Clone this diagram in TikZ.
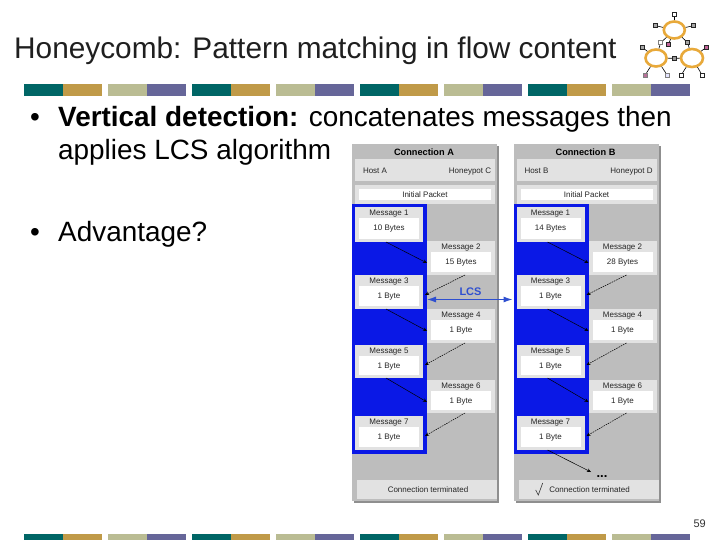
\documentclass[tikz,border=0pt]{standalone}
\usepackage{fontspec}
\setmainfont{Liberation Sans}
\usetikzlibrary{shapes.geometric,arrows.meta}
\definecolor{bteal}{HTML}{006666}
\definecolor{bgold}{HTML}{C09A48}
\definecolor{bsage}{HTML}{BABC93}
\definecolor{bviolet}{HTML}{666699}
\definecolor{panelgray}{HTML}{BDBDBD}
\definecolor{panelshadow}{HTML}{8F8F8F}
\definecolor{lightrow}{HTML}{E2E2E2}
\definecolor{dblue}{HTML}{0A18E6}
\definecolor{lcsblue}{HTML}{2E4FD0}
\definecolor{ringor}{HTML}{E8A93A}
\tikzset{
  x=1pt,y=-1pt,
  slidetitle/.style={anchor=base west,inner sep=0pt,font=\fontsize{29.8}{32}\selectfont,text=black!88},
  bodytext/.style={anchor=base west,inner sep=0pt,font=\fontsize{27.9}{30}\selectfont,text=black},
  tiny/.style={inner sep=0pt,text height=5.8pt,text depth=1.7pt,font=\fontsize{8}{9}\selectfont,text=black!85},
  conntitle/.style={inner sep=0pt,text height=6.6pt,text depth=0pt,font=\bfseries\fontsize{9.2}{10}\selectfont,text=black},
  sendarrow/.style={draw=black,line width=0.5pt,-{Stealth[length=4pt,width=3.5pt]}},
  retarrow/.style={draw=black,line width=0.5pt,dash pattern=on 1.6pt off 0.9pt,-{Stealth[length=4pt,width=3.5pt]}},
  lsq/.style={draw=black!85,line width=0.9pt,minimum size=4pt,inner sep=0pt,fill=#1},
  lsq/.default=white,
  ring/.style={ellipse,draw=ringor,line width=2.6pt,inner sep=0pt},
  lline/.style={draw=black,line width=0.6pt},
}
% name, x left, y top, y bottom, title, body
\newcommand{\msgbox}[6]{%
  \fill[lightrow] (#2,#3) rectangle (#2+68,#4);
  \fill[white] (#2+4,#3+11) rectangle (#2+64,#4-3);
  \node[tiny] at (#2+34,#3+6.3) {#5};
  \node[tiny] at (#2+34,#3+21) {#6};
  \coordinate (#1L) at (#2,#3+22);
  \coordinate (#1R) at (#2+70,#3+20);
  \coordinate (#1B) at (#2+31,#4);
  \coordinate (#1D) at (#2+38,#4);
}
% title, host, honeypot, msg1 body, msg2 body
\newcommand{\connpanel}[5]{%
  \fill[panelshadow] (354,146) rectangle (499,503);
  \fill[panelgray] (352,144) rectangle (497,501);
  \node[conntitle] at (424,152) {#1};
  \fill[lightrow] (355,159) rectangle (495,181);
  \node[tiny] at (375,171) {#2};
  \node[tiny] at (470,171) {#3};
  \fill[lightrow] (355,185) rectangle (495,204);
  \fill[white] (359,189) rectangle (491,200.5);
  \node[tiny] at (425,195) {Initial Packet};
  \fill[dblue] (352,204) rectangle (427,454);
  \msgbox{ma}{355}{207}{242}{Message 1}{#4}
  \msgbox{mb}{427}{241}{275}{Message 2}{#5}
  \msgbox{mc}{355}{275}{309}{Message 3}{1 Byte}
  \msgbox{md}{427}{309}{343}{Message 4}{1 Byte}
  \msgbox{me}{355}{345}{378}{Message 5}{1 Byte}
  \msgbox{mf}{427}{380}{413}{Message 6}{1 Byte}
  \msgbox{mg}{355}{416}{450}{Message 7}{1 Byte}
  \fill[lightrow] (357,480) rectangle (497,499);
  \node[tiny] at (428,490) {Connection terminated};
  \draw[sendarrow] (maB) -- (mbL);
  \draw[retarrow] (mbD) -- (mcR);
  \draw[sendarrow] (mcB) -- (mdL);
  \draw[retarrow] (mdD) -- (meR);
  \draw[sendarrow] (meB) -- (mfL);
  \draw[retarrow] (mfD) -- (mgR);
}
\begin{document}
\begin{tikzpicture}
\useasboundingbox (0,0) rectangle (720,540);
\fill[white] (0,0) rectangle (720,540);
% decorative bars
\foreach \i in {0,...,7}{
  \pgfmathsetmacro{\xa}{24+84*\i}
  \pgfmathtruncatemacro{\odd}{mod(\i,2)}
  \ifnum\odd=0
    \fill[bteal] (\xa,84) rectangle (\xa+39,96);
    \fill[bgold] (\xa+39,84) rectangle (\xa+78,96);
    \fill[bteal] (\xa,534) rectangle (\xa+39,540);
    \fill[bgold] (\xa+39,534) rectangle (\xa+78,540);
  \else
    \fill[bsage] (\xa,84) rectangle (\xa+39,96);
    \fill[bviolet] (\xa+39,84) rectangle (\xa+78,96);
    \fill[bsage] (\xa,534) rectangle (\xa+39,540);
    \fill[bviolet] (\xa+39,534) rectangle (\xa+78,540);
  \fi
}
\node[slidetitle] (ttl) at (14,59) {Honeycomb: Pattern matching in flow content};
\node[bodytext] (bu1) at (30,127) {•};
\node[bodytext] (l1) at (58,127) {\textbf{Vertical detection:} concatenates messages then};
\node[bodytext] (l2) at (58,160) {applies LCS algorithm};
\node[bodytext] (bu2) at (30,241) {•};
\node[bodytext] (l3) at (58,241) {Advantage?};
\node[anchor=base east,inner sep=0pt,font=\fontsize{11}{12}\selectfont,text=black!80] (pg) at (706,527) {59};
% logo
\node[ring,minimum width=21pt,minimum height=17pt] (r1) at (674.3,30) {};
\node[ring,minimum width=21pt,minimum height=17pt] (r2) at (656,58) {};
\node[ring,minimum width=22pt,minimum height=18pt] (r3) at (692,58) {};
\node[lsq] (s1) at (674.3,14.3) {};
\node[lsq=black!35] (s2) at (655.7,25.7) {};
\node[lsq=black!35] (s3) at (693.3,25.7) {};
\node[lsq=white,draw=black!50] (s4) at (660.7,42.7) {};
\node[lsq=magenta!50!gray] (s5) at (668.3,44.7) {};
\node[lsq=black!35] (s6) at (687.7,42.7) {};
\node[lsq=black!35] (s7) at (642.7,47.7) {};
\node[lsq=magenta!50!gray] (s8) at (706.3,47.3) {};
\node[lsq=black!40] (s9) at (674.3,58.3) {};
\node[lsq=magenta!40!gray,draw=black!50] (s10) at (645,75.3) {};
\node[lsq=blue!10,draw=black!50] (s11) at (667.3,75.3) {};
\node[lsq] (s12) at (681,75.3) {};
\node[lsq] (s13) at (702.3,75.3) {};
\foreach \a/\b in {r1/s1,r1/s2,r1/s3,r1/s4,r1/s5,r1/s6,s6/r3,r2/s4,r2/s7,r2/s9,s9/r3,r2/s10,r2/s11,r3/s8,r3/s12,r3/s13}
  \draw[lline] (\a) -- (\b);
% panels
\begin{scope}
  \connpanel{Connection A}{Host A}{Honeypot C}{10 Bytes}{15 Bytes}
  \node[inner sep=0pt,font=\bfseries\fontsize{11}{12}\selectfont,text=lcsblue] (lcs) at (470.5,292) {LCS};
  \coordinate (lcsA) at (427,299.5);
\end{scope}
\begin{scope}[xshift=161.5pt]
  \connpanel{Connection B}{Host B}{Honeypot D}{14 Bytes}{28 Bytes}
  \coordinate (lcsB) at (351,299.5);
  \coordinate (etc) at (429.5,472);
  \draw[sendarrow] (mgB) -- (etc);
  \node[anchor=base,inner sep=0pt,font=\bfseries\fontsize{13}{14}\selectfont] (dots) at (440.5,477) {...};
  \draw[line width=0.6pt,draw=black!80] (374.2,490) -- (376.8,495) -- (381.2,483);
\end{scope}
\draw[{Latex[length=9pt,width=6pt]}-{Latex[length=9pt,width=6pt]},draw=lcsblue,line width=1.1pt,color=lcsblue] (lcsA) -- (lcsB);
\end{tikzpicture}
\end{document}
